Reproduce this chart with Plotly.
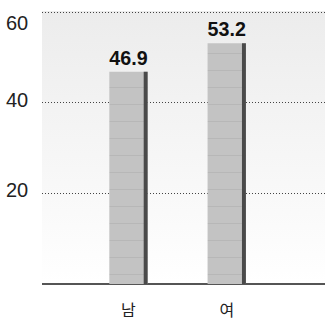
import plotly.graph_objects as go

# 성별 비율 (%)
categories = ["남", "여"]
values = [46.9, 53.2]
value_labels = ["46.9", "53.2"]
y_ticks = [20, 40, 60]
y_tick_labels = ["20", "40", "60"]

BAR_W = 0.39
EDGE_W = 0.04
Y_MAX = 60.3   # a hair above the top tick so its gridline is kept

num_font = "Liberation Sans Narrow, Arial Narrow, Liberation Sans, Arial, sans-serif"
kr_font = "Noto Sans CJK KR, Noto Sans, sans-serif"

# vertical gradient for the plot background (light grey at top, white at bottom)
bg_svg = (
    "data:image/svg+xml;utf8,"
    "<svg xmlns='http://www.w3.org/2000/svg' width='10' height='100' preserveAspectRatio='none'>"
    "<defs><linearGradient id='g' x1='0' y1='0' x2='0' y2='1'>"
    "<stop offset='0' stop-color='%23ececec'/><stop offset='1' stop-color='%23ffffff'/>"
    "</linearGradient></defs><rect width='10' height='100' fill='url(%23g)'/></svg>"
)

fig = go.Figure()

# main bar body with faint horizontal streaks
fig.add_trace(go.Bar(
    x=categories, y=values,
    width=BAR_W, offset=-BAR_W / 2,
    marker=dict(
        color="#c3c3c3",
        line=dict(width=0),
        pattern=dict(shape="-", fgcolor="#ababab", bgcolor="#c3c3c3",
                     size=17, solidity=0.07),
    ),
    text=value_labels, textposition="outside",
    textfont=dict(family=num_font, size=20, color="#111111", weight="bold"),
    cliponaxis=False,
    hoverinfo="skip",
))

# dark shaded right edge of each bar
fig.add_trace(go.Bar(
    x=categories, y=values,
    width=EDGE_W, offset=BAR_W / 2 - EDGE_W,
    marker=dict(color="#4a4a4a", line=dict(width=0)),
    hoverinfo="skip",
))

# y-axis labels drawn as annotations so the top one can sit below its gridline
label_shift = {20: 3, 40: 3, 60: -11}
for v, t in zip(y_ticks, y_tick_labels):
    fig.add_annotation(
        x=0, xref="paper", y=v, yref="y",
        text=t, showarrow=False,
        xanchor="right", yanchor="middle",
        xshift=-12, yshift=label_shift[v],
        font=dict(family=num_font, size=20, color="#222222"),
    )

fig.update_layout(
    width=326, height=322,
    margin=dict(l=42, r=1, t=11, b=38),
    paper_bgcolor="white",
    plot_bgcolor="rgba(0,0,0,0)",
    barmode="overlay",
    showlegend=False,
    images=[dict(
        source=bg_svg, xref="paper", yref="paper",
        x=0, y=1, sizex=1, sizey=1, sizing="stretch",
        xanchor="left", yanchor="top", layer="below",
    )],
    xaxis=dict(
        range=[-0.88, 2.0],
        automargin=False,
        showgrid=False, zeroline=False,
        showline=False,
        ticks="outside", ticklen=12, tickcolor="rgba(0,0,0,0)",
        tickfont=dict(family=kr_font, size=16, color="#222222"),
        fixedrange=True,
    ),
    yaxis=dict(
        range=[0, Y_MAX],
        automargin=False,
        tickvals=y_ticks, showticklabels=False,
        showgrid=True, gridcolor="#444444", griddash="1px,2px", gridwidth=1,
        zeroline=True, zerolinecolor="#555555", zerolinewidth=2,
        showline=False,
        fixedrange=True,
    ),
)

fig.write_html("out.html")
